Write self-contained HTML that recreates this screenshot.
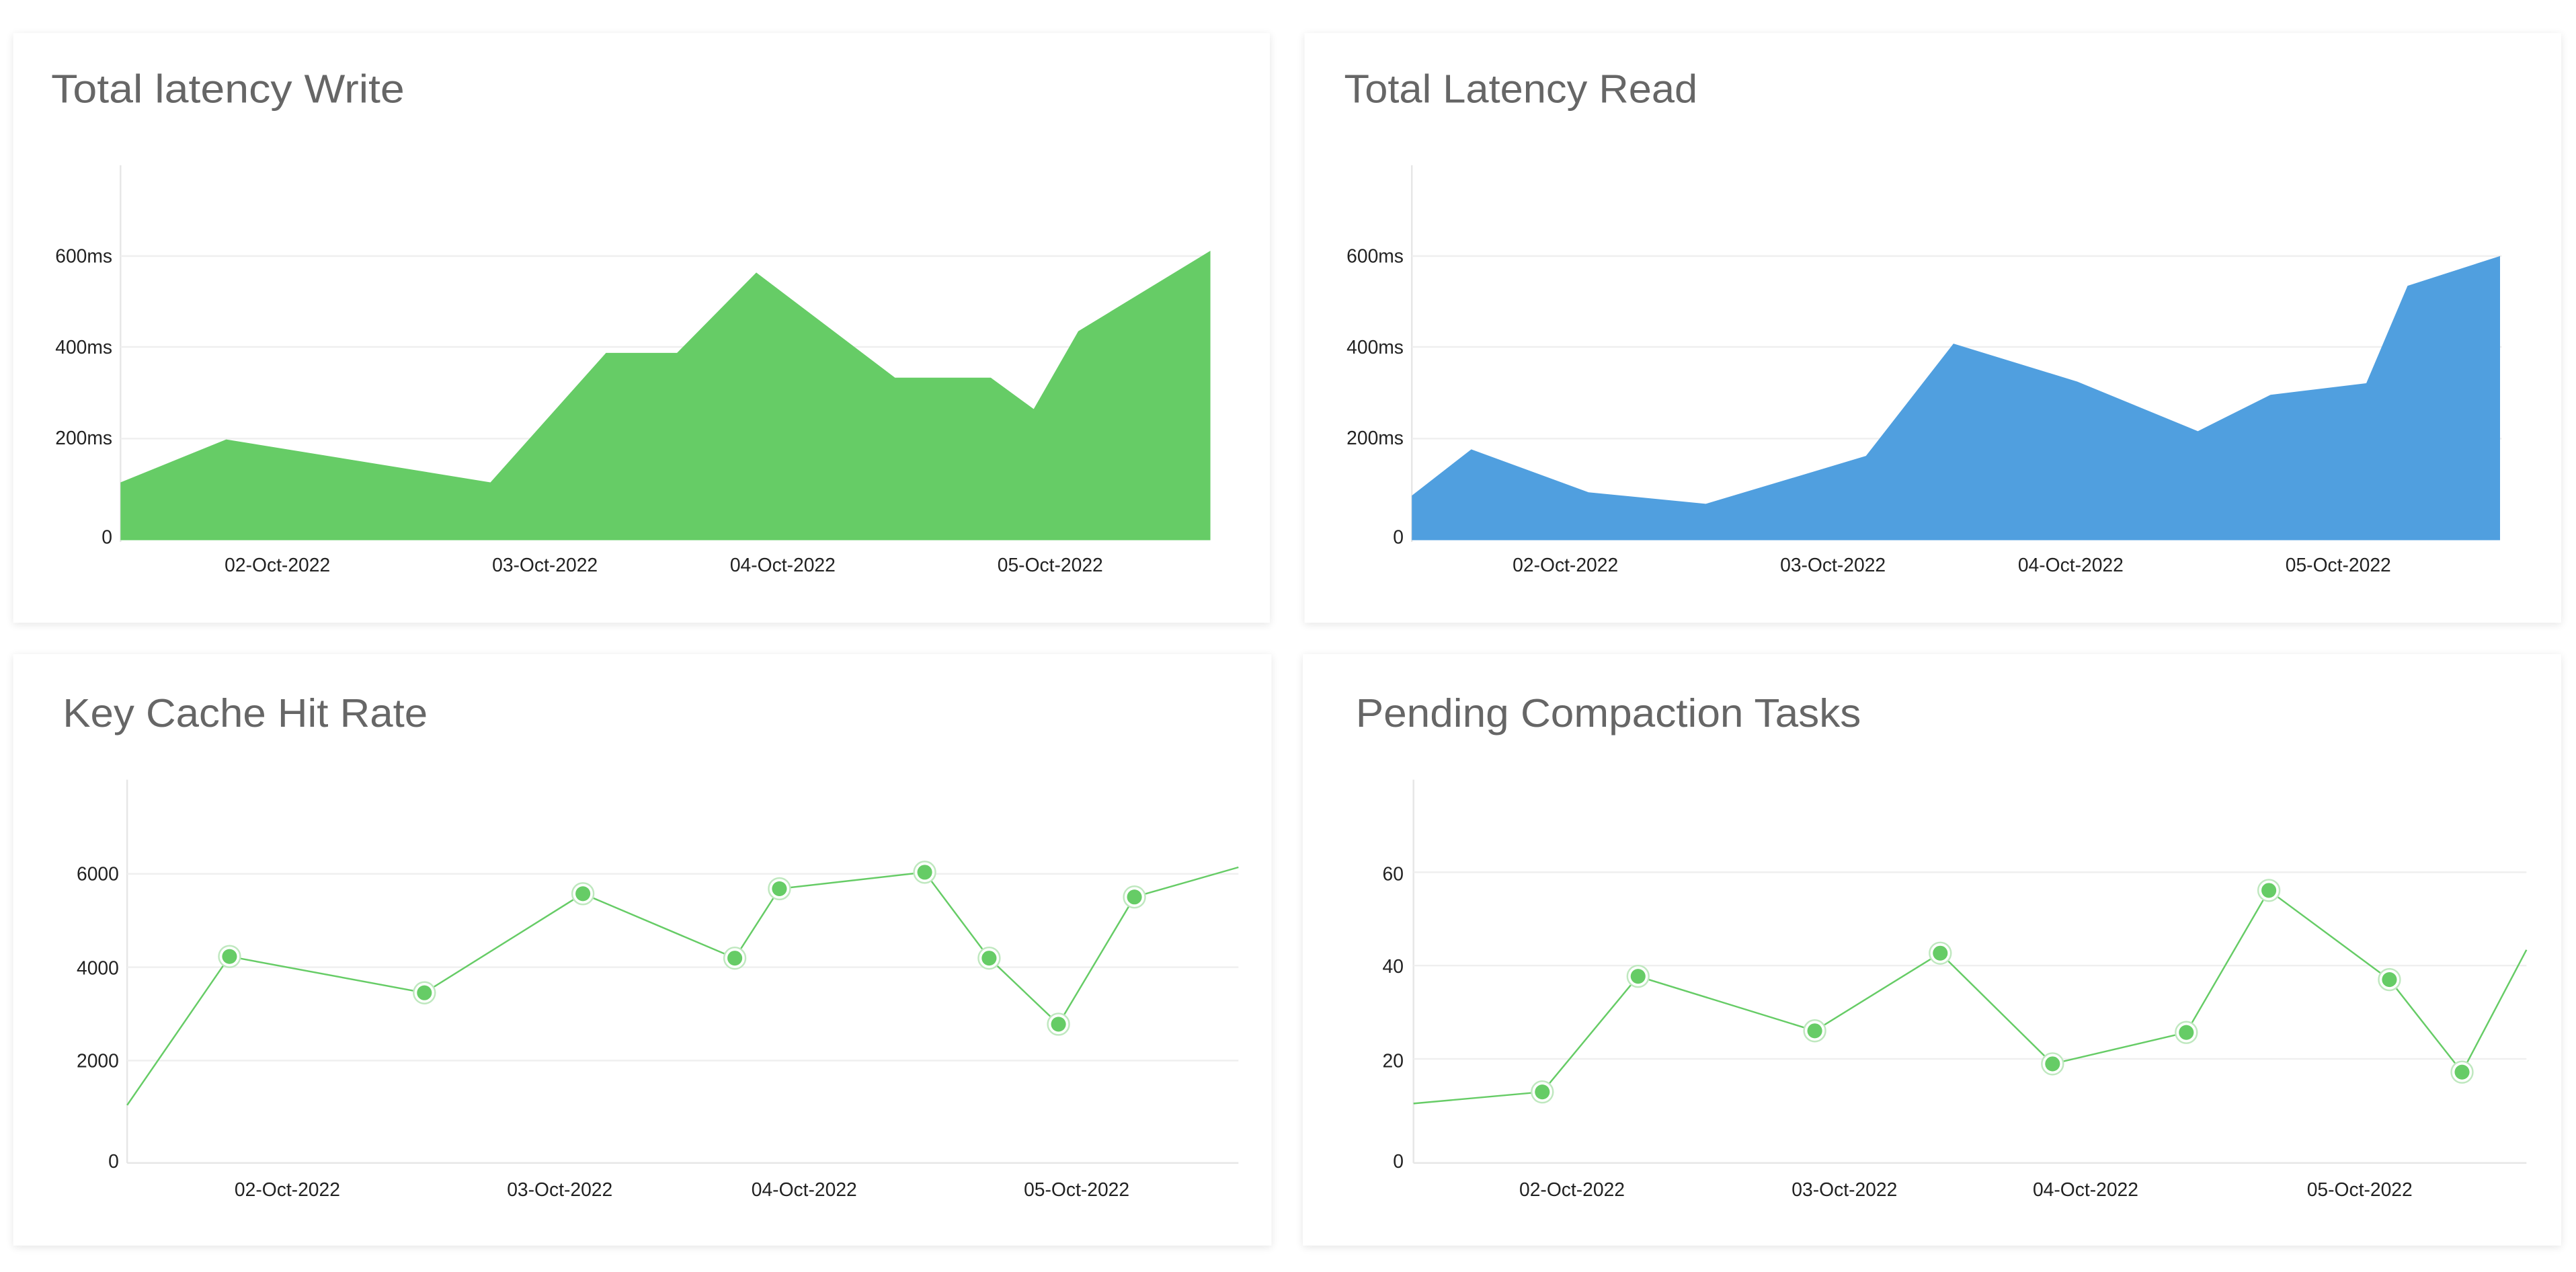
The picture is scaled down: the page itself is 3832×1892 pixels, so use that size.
<!DOCTYPE html>
<html><head><meta charset="utf-8"><style>
html,body{margin:0;padding:0;background:#fff;}
svg{display:block;}
text{font-family:"Liberation Sans",sans-serif;}
.t{fill:#666;font-size:24px;}
.l{fill:#222;font-size:11.5px;}
.g{stroke:#efefef;stroke-width:1;}
.ax{stroke:#e6e6e6;stroke-width:1;}
</style></head><body>
<svg width="3832" height="1892" viewBox="0 0 1560 770" preserveAspectRatio="none" xmlns="http://www.w3.org/2000/svg">
<defs>
<filter id="sh" x="-5%" y="-5%" width="110%" height="110%"><feGaussianBlur stdDeviation="2.5"/></filter>
<g id="mk"><circle r="6.5" fill="#fff" stroke="#bfe8bf" stroke-width="1"/><circle r="4.5" fill="#66cc66"/></g>
</defs>
<rect width="1560" height="770" fill="#fff"/>
<!-- panels -->
<g fill="#000" opacity="0.10" filter="url(#sh)">
<rect x="8" y="21" width="761" height="357"/>
<rect x="790" y="21" width="761" height="357"/>
<rect x="8" y="397" width="762" height="358"/>
<rect x="789" y="397" width="762" height="358"/>
</g>
<g fill="#fff">
<rect x="8" y="20" width="761" height="357"/>
<rect x="790" y="20" width="761" height="357"/>
<rect x="8" y="396" width="762" height="358"/>
<rect x="789" y="396" width="762" height="358"/>
</g>

<!-- TL -->
<text class="t" x="31" y="62" textLength="214" lengthAdjust="spacingAndGlyphs">Total latency Write</text>
<line class="ax" x1="73" y1="100" x2="73" y2="328"/>
<line class="g" x1="73" y1="155" x2="733" y2="155"/>
<line class="g" x1="73" y1="210" x2="733" y2="210"/>
<line class="g" x1="73" y1="265.5" x2="733" y2="265.5"/>
<polygon fill="#66cc66" points="73,292 137,266 297,292 367,213.6 410,213.6 458,165 542,228.6 600,228.6 626,247.6 653,200.5 733,151.8 733,327 73,327"/>
<g class="l" text-anchor="end">
<text x="68" y="159">600ms</text><text x="68" y="214">400ms</text><text x="68" y="269">200ms</text><text x="68" y="329">0</text>
</g>
<g class="l" text-anchor="middle">
<text x="168" y="346">02-Oct-2022</text><text x="330" y="346">03-Oct-2022</text><text x="474" y="346">04-Oct-2022</text><text x="636" y="346">05-Oct-2022</text>
</g>

<!-- TR -->
<text class="t" x="814" y="62" textLength="214" lengthAdjust="spacingAndGlyphs">Total Latency Read</text>
<line class="ax" x1="855" y1="100" x2="855" y2="328"/>
<line class="g" x1="855" y1="155" x2="1515" y2="155"/>
<line class="g" x1="855" y1="210" x2="1515" y2="210"/>
<line class="g" x1="855" y1="265.5" x2="1515" y2="265.5"/>
<polygon fill="#509fdf" points="855,300 891,272 962,298 1033,305 1130,276 1183,208 1258,231 1331,261 1375,239 1433,232 1458,173 1514,155 1514,327 855,327"/>
<g class="l" text-anchor="end">
<text x="850" y="159">600ms</text><text x="850" y="214">400ms</text><text x="850" y="269">200ms</text><text x="850" y="329">0</text>
</g>
<g class="l" text-anchor="middle">
<text x="948" y="346">02-Oct-2022</text><text x="1110" y="346">03-Oct-2022</text><text x="1254" y="346">04-Oct-2022</text><text x="1416" y="346">05-Oct-2022</text>
</g>

<!-- BL -->
<text class="t" x="38" y="440" textLength="221" lengthAdjust="spacingAndGlyphs">Key Cache Hit Rate</text>
<line class="ax" x1="77" y1="472" x2="77" y2="704"/>
<line class="g" x1="77" y1="529" x2="750" y2="529"/>
<line class="g" x1="77" y1="585.5" x2="750" y2="585.5"/>
<line class="g" x1="77" y1="642" x2="750" y2="642"/>
<line class="ax" x1="77" y1="704" x2="750" y2="704"/>
<polyline fill="none" stroke="#66cc66" stroke-width="1" points="77,669 139,579 257,601 353,541 445,580 472,538 560,528 599,580 641,620 687,543 750,525"/>
<use href="#mk" x="139" y="579"/><use href="#mk" x="257" y="601"/><use href="#mk" x="353" y="541"/><use href="#mk" x="445" y="580"/><use href="#mk" x="472" y="538"/><use href="#mk" x="560" y="528"/><use href="#mk" x="599" y="580"/><use href="#mk" x="641" y="620"/><use href="#mk" x="687" y="543"/>
<g class="l" text-anchor="end">
<text x="72" y="533">6000</text><text x="72" y="590">4000</text><text x="72" y="646">2000</text><text x="72" y="707">0</text>
</g>
<g class="l" text-anchor="middle">
<text x="174" y="724">02-Oct-2022</text><text x="339" y="724">03-Oct-2022</text><text x="487" y="724">04-Oct-2022</text><text x="652" y="724">05-Oct-2022</text>
</g>

<!-- BR -->
<text class="t" x="821" y="440" textLength="306" lengthAdjust="spacingAndGlyphs">Pending Compaction Tasks</text>
<line class="ax" x1="856" y1="472" x2="856" y2="704"/>
<line class="g" x1="856" y1="528" x2="1530" y2="528"/>
<line class="g" x1="856" y1="584.5" x2="1530" y2="584.5"/>
<line class="g" x1="856" y1="641" x2="1530" y2="641"/>
<line class="ax" x1="856" y1="704" x2="1530" y2="704"/>
<polyline fill="none" stroke="#66cc66" stroke-width="1" points="856,668 934,661 992,591 1099,624 1175,577 1243,644 1324,625 1374,539 1447,593 1491,649 1530,575"/>
<use href="#mk" x="934" y="661"/><use href="#mk" x="992" y="591"/><use href="#mk" x="1099" y="624"/><use href="#mk" x="1175" y="577"/><use href="#mk" x="1243" y="644"/><use href="#mk" x="1324" y="625"/><use href="#mk" x="1374" y="539"/><use href="#mk" x="1447" y="593"/><use href="#mk" x="1491" y="649"/>
<g class="l" text-anchor="end">
<text x="850" y="533">60</text><text x="850" y="589">40</text><text x="850" y="646">20</text><text x="850" y="707">0</text>
</g>
<g class="l" text-anchor="middle">
<text x="952" y="724">02-Oct-2022</text><text x="1117" y="724">03-Oct-2022</text><text x="1263" y="724">04-Oct-2022</text><text x="1429" y="724">05-Oct-2022</text>
</g>
</svg>
</body></html>
